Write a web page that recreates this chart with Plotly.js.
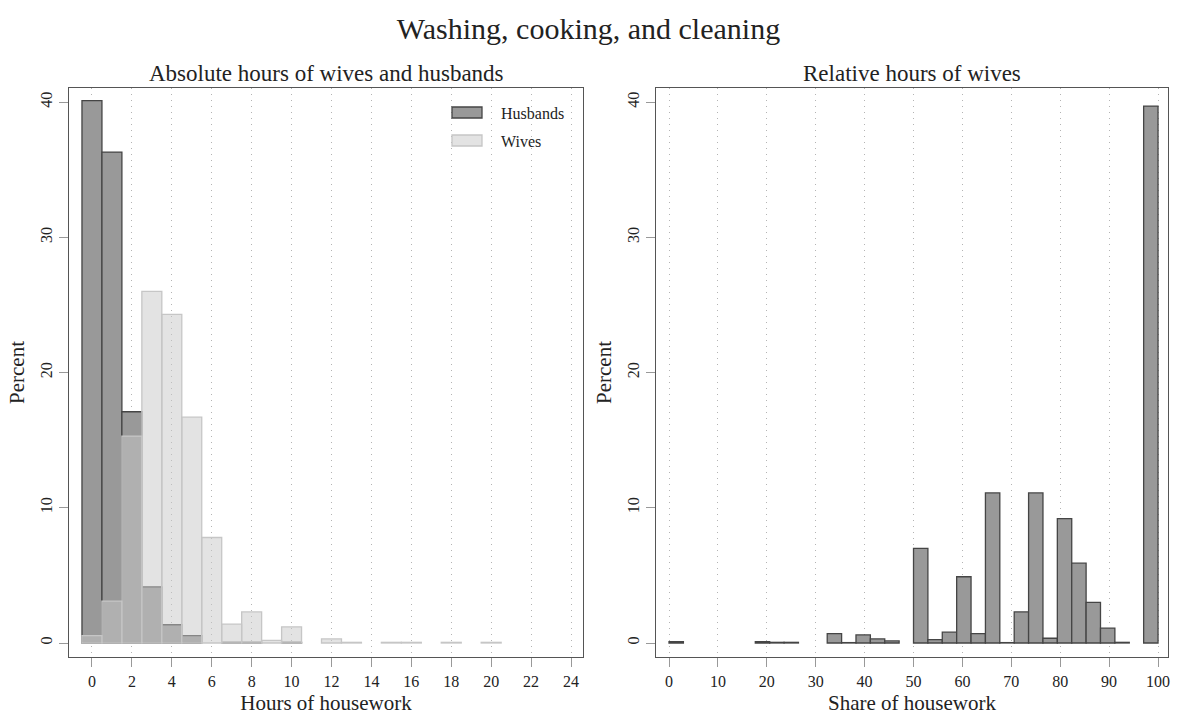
<!DOCTYPE html>
<html>
<head>
<meta charset="utf-8">
<script src="https://cdn.plot.ly/plotly-3.0.1.min.js"></script>
<style>html,body{margin:0;padding:0;background:#fff;}#chart{width:1177px;height:715px;}</style>
</head>
<body>
<div id="chart"></div>
<script>
// ---- data (percent) ----
const hours = [0,1,2,3,4,5,6,7,8,9,10,11,12,13,14,15,16,17,18,19,20];
const husbands = [40.1,36.3,17.1,4.15,1.35,0.55,null,0.05,0.05,null,0.05,null,null,null,null,null,null,null,null,null,null];
const wives    = [0.55,3.1,15.3,26.0,24.3,16.7,7.8,1.4,2.3,0.2,1.2,null,0.3,0.05,null,0.05,0.05,null,0.05,null,0.05];

const shareBinCount = 34;            // bins of the wife's share, 0..100
const shareValues = [0.1,null,null,null,null,null,0.1,0.05,0.05,null,null,0.7,0.03,0.6,0.3,0.15,null,
                     7.0,0.25,0.8,4.9,0.7,11.1,0.03,2.3,11.1,0.35,9.2,5.9,3.0,1.1,0.05,null,39.7];

const hourTicks = [0,2,4,6,8,10,12,14,16,18,20,22,24];
const shareTicks = [0,10,20,30,40,50,60,70,80,90,100];
const pctTicks = [0,10,20,30,40];

const binW = 100 / shareBinCount;
const shareCenters = shareValues.map((v, i) => i * binW + binW / 2);

const serif = 'Liberation Serif, Times New Roman, serif';
const ink = '#222';

const traces = [
  {type:'bar', name:'Husbands', x:hours, y:husbands, width:1, xaxis:'x', yaxis:'y',
   marker:{color:'#999999', line:{color:'#454545', width:1.3}}, showlegend:false, hoverinfo:'x+y'},
  {type:'bar', name:'Wives', x:hours, y:wives, width:1, xaxis:'x', yaxis:'y',
   marker:{color:'rgba(200,200,200,0.5)', line:{color:'#c6c6c6', width:1.3}}, showlegend:false, hoverinfo:'x+y'},
  {type:'bar', name:'Share', x:shareCenters, y:shareValues, width:binW, xaxis:'x2', yaxis:'y2',
   marker:{color:'#999999', line:{color:'#454545', width:1.3}}, showlegend:false, hoverinfo:'x+y'}
];

function xax(domain, range, ticks, title){
  return {domain:domain, range:range, tickvals:ticks, ticktext:ticks.map(String),
    showline:true, mirror:true, linecolor:'#555', linewidth:1.3,
    ticks:'outside', ticklen:9, tickcolor:'#999', tickwidth:1,
    showgrid:true, gridcolor:'#b4b4b4', griddash:'1px,5px', gridwidth:1, zeroline:false,
    tickfont:{family:serif, size:16, color:ink},
    title:{text:title, font:{family:serif, size:21, color:ink}, standoff:10}};
}
function yax(anchor, title){
  return {anchor:anchor, domain:[0,1], range:[-1.035, 41.04], tickvals:pctTicks, ticktext:pctTicks.map(String),
    showline:true, mirror:true, linecolor:'#555', linewidth:1.3,
    ticks:'outside', ticklen:9, tickcolor:'#999', tickwidth:1, tickangle:-90,
    showgrid:false, zeroline:false,
    tickfont:{family:serif, size:16, color:ink},
    title:{text:title, font:{family:serif, size:21, color:ink}, standoff:8}};
}

const layout = {
  width:1177, height:715,
  margin:{l:69, r:9, t:88, b:58},
  paper_bgcolor:'#fff', plot_bgcolor:'#fff',
  barmode:'overlay', bargap:0,
  font:{family:serif, color:ink},
  title:{text:'Washing, cooking, and cleaning', font:{family:serif, size:30, color:ink},
         x:0.5, xref:'container', y:1-28/715, yref:'container', yanchor:'middle'},
  xaxis: xax([0, (583-69)/1099], [-1.15, 24.6], hourTicks, 'Hours of housework'),
  yaxis: yax('x', 'Percent'),
  xaxis2: xax([(656-69)/1099, 1], [-2.66, 102.04], shareTicks, 'Share of housework'),
  yaxis2: yax('x2', 'Percent'),
  annotations:[
    {text:'Absolute hours of wives and husbands', xref:'x domain', x:0.5, yref:'paper', y:1+(88-74)/569,
     xanchor:'center', yanchor:'middle', showarrow:false, font:{family:serif, size:23, color:ink}},
    {text:'Relative hours of wives', xref:'x2 domain', x:0.5, yref:'paper', y:1+(88-74)/569,
     xanchor:'center', yanchor:'middle', showarrow:false, font:{family:serif, size:23, color:ink}},
    {text:'Husbands', xref:'paper', x:(499-69)/1099, yref:'paper', y:1-(113-88)/569,
     xanchor:'left', yanchor:'middle', showarrow:false, font:{family:serif, size:16, color:ink}},
    {text:'Wives', xref:'paper', x:(499-69)/1099, yref:'paper', y:1-(141-88)/569,
     xanchor:'left', yanchor:'middle', showarrow:false, font:{family:serif, size:16, color:ink}}
  ],
  shapes:[
    {type:'rect', xref:'paper', yref:'paper', x0:(452-69)/1099, x1:(482-69)/1099,
     y0:1-(118-88)/569, y1:1-(107-88)/569, fillcolor:'#999999', line:{color:'#454545', width:1.3}},
    {type:'rect', xref:'paper', yref:'paper', x0:(452-69)/1099, x1:(482-69)/1099,
     y0:1-(146-88)/569, y1:1-(135-88)/569, fillcolor:'#e3e3e3', line:{color:'#c6c6c6', width:1.3}}
  ]
};

Plotly.newPlot('chart', traces, layout, {displayModeBar:false, staticPlot:true});
</script>
</body>
</html>
